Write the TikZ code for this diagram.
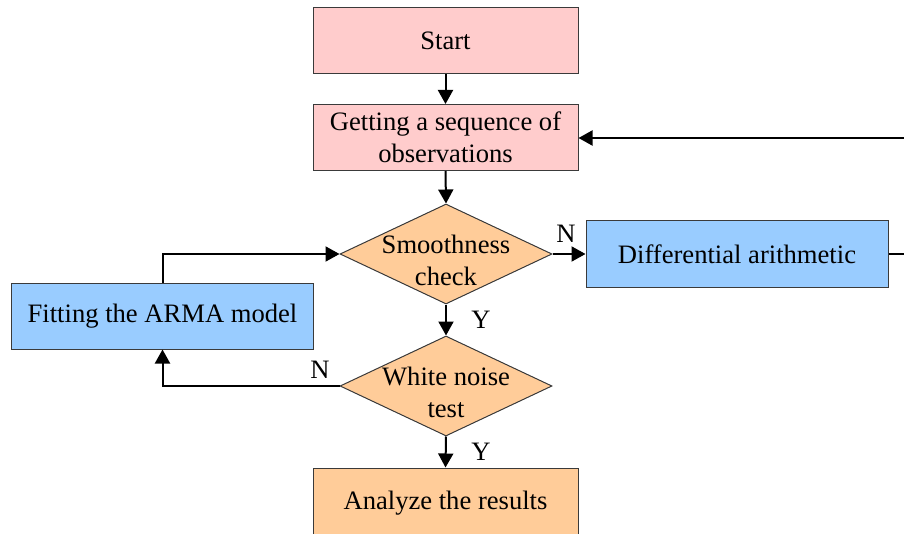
\documentclass[tikz,border=0pt]{standalone}
\usepackage{fontspec}
\setmainfont{Liberation Serif}
\usetikzlibrary{shapes.geometric,arrows.meta}
\definecolor{pinkfill}{HTML}{FFCCCC}
\definecolor{orangefill}{HTML}{FFCC99}
\definecolor{bluefill}{HTML}{99CCFF}
\definecolor{edgegray}{HTML}{3A3A3A}
\begin{document}
\begin{tikzpicture}[x=0.5pt,y=-0.5pt,
  every node/.style={font=\fontsize{13.3}{16}\selectfont, text=black},
  box/.style={draw=edgegray, line width=0.5pt, rectangle, align=center, inner sep=0pt},
  pinkbox/.style={box, fill=pinkfill, minimum width=132.5pt, minimum height=33pt},
  bluebox/.style={box, fill=bluefill, minimum width=151pt, minimum height=33pt},
  orangebox/.style={box, fill=orangefill, minimum width=132.5pt, minimum height=35pt},
  decision/.style={draw=edgegray, line width=0.5pt, diamond, fill=orangefill, inner sep=0pt,
    minimum width=106pt, minimum height=50pt},
  dtext/.style={align=center, inner sep=0pt},
  flow/.style={line width=1pt, -{Triangle[length=7pt,width=7.5pt]}},
  plain/.style={line width=1pt},
  lbl/.style={inner sep=0pt}
]
\useasboundingbox (0,0) rectangle (904,534);

% process boxes
\node[pinkbox] (start) at (445.5,41) {Start};
\node[pinkbox] (obs) at (445.5,137.5) {Getting a sequence of\\observations};
\node[orangebox] (result) at (445.5,503) {Analyze the results};
\node[bluebox] (diff) at (737,254) {Differential arithmetic};
\node[bluebox] (fit) at (162.5,316) {Fitting the ARMA model};

% decisions: empty outlines with the wording set on top
\node[decision] (smooth) at (446,254) {};
\node[decision] (white) at (446,386) {};
\node[dtext] (smoothtxt) at (446,260) {Smoothness\\check};
\node[dtext] (whitetxt) at (446,392) {White noise\\test};

% loose ends at the right border
\coordinate (rightout) at (904,254);
\coordinate (rightin) at (904,138);

% main flow
\draw[flow] (start.south) -- (obs.north);
\draw[flow] (obs.south) -- (smooth.north);
\draw[flow] (smooth.south) -- (white.north);
\draw[flow] (white.south) -- (result.north);

% non-stationary branch
\draw[flow] (smooth.east) -- (diff.west);
\draw[plain] (diff.east) -- (rightout);
\draw[flow] (rightin) -- (obs.east |- rightin);

% model fitting loop
\draw[flow] (white.west) -| (fit.south);
\draw[flow] (fit.north) |- (smooth.west);

% branch labels
\node[lbl] (ny1) at (566,234) {N};
\node[lbl] (yy1) at (481,320) {Y};
\node[lbl] (nn2) at (320,370) {N};
\node[lbl] (yy2) at (481,452) {Y};
\end{tikzpicture}
\end{document}
